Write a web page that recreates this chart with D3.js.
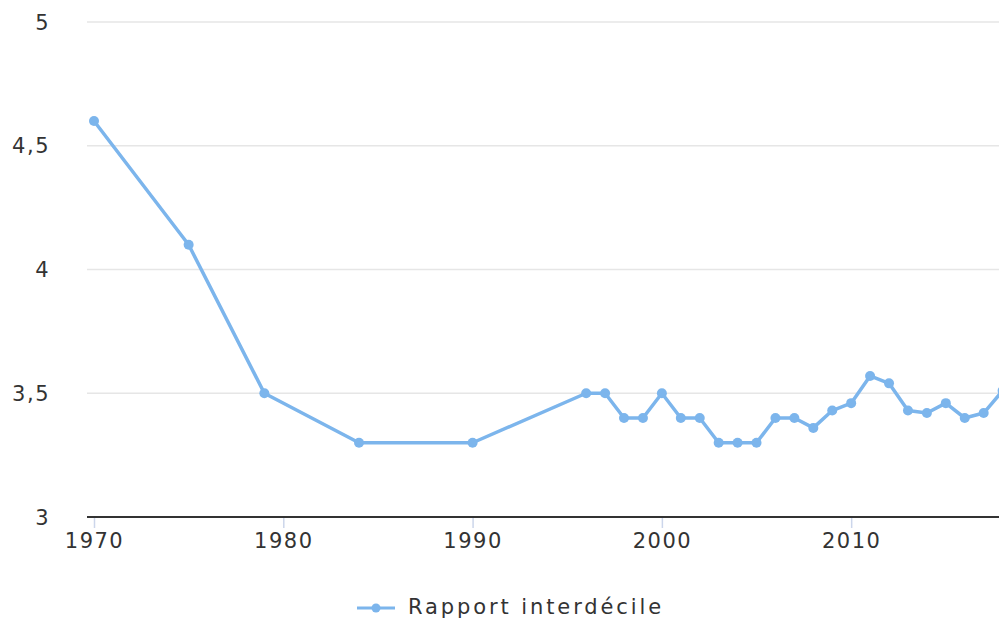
<!DOCTYPE html>
<html>
<head>
<meta charset="utf-8">
<script src="https://cdn.jsdelivr.net/npm/d3@7/dist/d3.min.js"></script>
<style>
  body { margin: 0; background: #fff; }
  svg { display: block; }
  text { font-family: "DejaVu Sans", Verdana, sans-serif; fill: #333; }
</style>
</head>
<body>
<div id="chart"></div>
<script>
// Rapport interdécile (D9/D1)
const years = [1970, 1975, 1979, 1984, 1990, 1996, 1997, 1998, 1999, 2000,
  2001, 2002, 2003, 2004, 2005, 2006, 2007, 2008, 2009, 2010,
  2011, 2012, 2013, 2014, 2015, 2016, 2017, 2018];
const ratio = [4.6, 4.1, 3.5, 3.3, 3.3, 3.5, 3.5, 3.4, 3.4, 3.5,
  3.4, 3.4, 3.3, 3.3, 3.3, 3.4, 3.4, 3.36, 3.43, 3.46,
  3.57, 3.54, 3.43, 3.42, 3.46, 3.4, 3.42, 3.51];
const xTicks = [1970, 1980, 1990, 2000, 2010];
const yTicks = [3, 3.5, 4, 4.5, 5];
const seriesName = "Rapport interdécile";

var W = 999, H = 619;
var lineColor = "#7cb5ec";

var svg = d3.select("#chart").append("svg").attr("width", W).attr("height", H);

var x = d3.scaleLinear().domain([1970, 2018]).range([94, 1002.6]);
var y = d3.scaleLinear().domain([3, 5]).range([517, 22]);

// grid lines
svg.append("g").selectAll("line").data(yTicks.slice(1)).join("line")
  .attr("x1", 87).attr("x2", W + 20)
  .attr("y1", d => y(d)).attr("y2", d => y(d))
  .attr("stroke", "#e6e6e6").attr("stroke-width", 1.5);

// y labels
var fmt = d => String(d).replace(".", ",");
svg.append("g").selectAll("text").data(yTicks).join("text")
  .attr("x", 50).attr("y", d => y(d)).attr("dy", "0.36em")
  .attr("text-anchor", "end")
  .style("font-size", "21px").style("letter-spacing", "1.5px")
  .text(fmt);

// x axis
var xAxis = d3.axisBottom(x).tickValues(xTicks).tickFormat(d3.format("d")).tickSize(11).tickPadding(5);
var gx = svg.append("g").attr("transform", "translate(0," + y(3) + ")").call(xAxis);
gx.select(".domain").remove();
gx.selectAll(".tick line").attr("stroke", "#ccd6eb").attr("stroke-width", 1.5);
gx.selectAll(".tick text").style("font-size", "21px").style("letter-spacing", "1.5px")
  .attr("fill", "#333").attr("font-family", null);
svg.append("line").attr("x1", 87).attr("x2", W + 20)
  .attr("y1", y(3)).attr("y2", y(3))
  .attr("stroke", "#333").attr("stroke-width", 2);

// series
var pts = years.map((yr, i) => [yr, ratio[i]]);
svg.append("path").datum(pts)
  .attr("fill", "none").attr("stroke", lineColor).attr("stroke-width", 3.5)
  .attr("stroke-linejoin", "round").attr("stroke-linecap", "round")
  .attr("d", d3.line().x(d => x(d[0])).y(d => y(d[1])));
svg.append("g").selectAll("circle").data(pts).join("circle")
  .attr("cx", d => x(d[0])).attr("cy", d => y(d[1])).attr("r", 5)
  .attr("fill", lineColor);

// legend
var lg = svg.append("g").attr("transform", "translate(357,608)");
lg.append("line").attr("x1", 0).attr("x2", 38).attr("stroke", lineColor).attr("stroke-width", 3);
lg.append("circle").attr("cx", 19).attr("r", 4.5).attr("fill", lineColor);
lg.append("text").attr("x", 51).attr("y", 6)
  .style("font-size", "21px").style("letter-spacing", "2.9px")
  .text(seriesName);
</script>
</body>
</html>
